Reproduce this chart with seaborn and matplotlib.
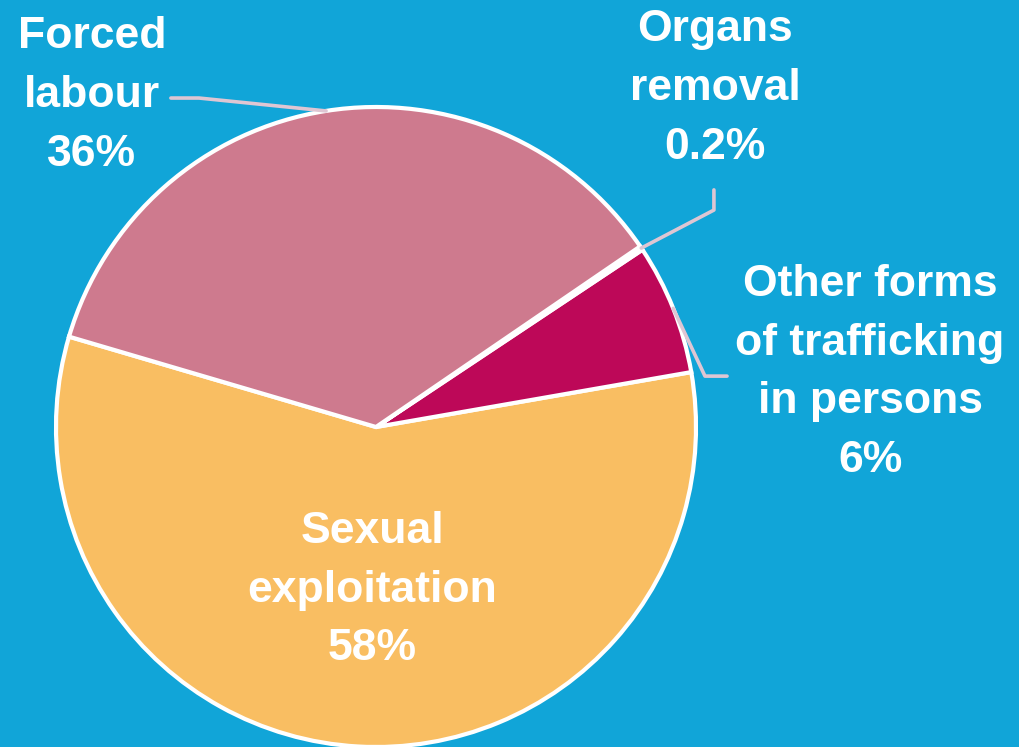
import numpy as np
import seaborn as sns
import matplotlib.pyplot as plt

# shares (labels show rounded figures)
categories = ["Sexual\nexploitation", "Other forms\nof trafficking\nin persons", "Organs\nremoval", "Forced\nlabour"]
shares = [57.3, 6.6, 0.2, 35.9]
pctLabels = ["58%", "6%", "0.2%", "36%"]
colors = ["#F9BE62", "#BD0858", "#6B6FA8", "#CE7A8E"]

bgColor = "#11A5D8"
leaderColor = "#DEC6D3"

sns.set_theme(style = "white")
plt.rcParams["font.family"] = ["Liberation Sans", "DejaVu Sans"]

fig = plt.figure(figsize = (10.19, 7.47), dpi = 100)
fig.patch.set_facecolor(bgColor)
ax = fig.add_axes([0, 0, 1, 1])
ax.set_facecolor(bgColor)

wedges, _ = ax.pie(
    shares, colors = colors, startangle = 163.6, counterclock = True,
    radius = 1.0, center = (0, 0),
    wedgeprops = dict(edgecolor = "white", linewidth = 3)
)

ax.set_xlim(-376 / 320, (1019 - 376) / 320)
ax.set_ylim(-(747 - 427) / 320, 427 / 320)
ax.set_aspect("auto")
ax.axis("off")

# label block centres and leader elbows (data units, radius = 1)
labelPos = [(-0.012, -0.51), (1.544, 0.17), (1.059, 1.058), (-0.888, 1.036)]
elbows = [None, [(1.028, 0.159), (1.097, 0.159)], [(1.056, 0.678), (1.056, 0.741)],
          [(-0.553, 1.028), (-0.641, 1.028)]]

for wedge, name, pct, pos, elbow in zip(wedges, categories, pctLabels, labelPos, elbows) :
    ax.text(pos[0], pos[1], f"{name}\n{pct}", ha = "center", va = "center",
            color = "white", fontsize = 32, fontweight = "bold", linespacing = 1.55)
    if elbow is None :
        continue
    midAngle = np.deg2rad((wedge.theta1 + wedge.theta2) / 2)
    xs = [np.cos(midAngle)] + [p[0] for p in elbow]
    ys = [np.sin(midAngle)] + [p[1] for p in elbow]
    ax.plot(xs, ys, color = leaderColor, linewidth = 2.6, solid_capstyle = "round", zorder = 5)

fig.savefig("out.png", dpi = 100, facecolor = bgColor)
